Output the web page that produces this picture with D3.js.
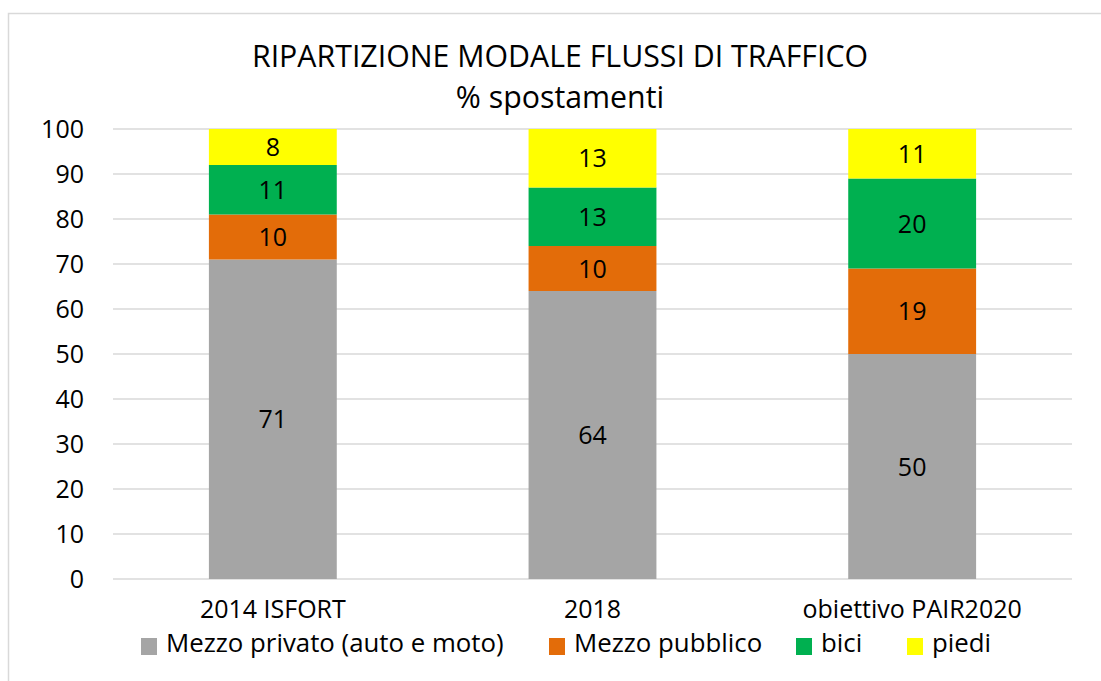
<!DOCTYPE html>
<html>
<head>
<meta charset="utf-8">
<script src="https://cdn.jsdelivr.net/npm/d3@7"></script>
<style>
  html, body { margin: 0; padding: 0; background: #fff; }
  svg { display: block; font-family: "Open Sans", "Noto Sans", sans-serif; }
</style>
</head>
<body>
<svg id="chart" width="1101" height="681"></svg>
<script>
// Modal split of traffic flows (% of trips)
const categories = ["2014 ISFORT", "2018", "obiettivo PAIR2020"];
const seriesNames = ["Mezzo privato (auto e moto)", "Mezzo pubblico", "bici", "piedi"];
const privato  = [71, 64, 50];
const pubblico = [10, 10, 19];
const bici     = [11, 13, 20];
const piedi    = [8, 13, 11];
const yTicks   = [0, 10, 20, 30, 40, 50, 60, 70, 80, 90, 100];
const colors   = ["#a5a5a5", "#e36c09", "#00b050", "#ffff00"];

const FONT = "'Open Sans', 'Noto Sans', sans-serif";
const LABEL_SIZE = 25;

const seriesValues = [privato, pubblico, bici, piedi];
const rows = categories.map((c, i) => {
  const r = { cat: c };
  seriesNames.forEach((s, k) => { r[s] = seriesValues[k][i]; });
  return r;
});

const svg = d3.select("#chart");
const W = 1101, H = 681;

// outer chart frame
svg.append("rect")
  .attr("x", 8.5).attr("y", 13.5)
  .attr("width", W + 10).attr("height", H + 10)
  .attr("fill", "#fff").attr("stroke", "#d9d9d9").attr("stroke-width", 1.5);

const plot = { left: 113, right: 1072, top: 129, bottom: 579 };

const x = d3.scaleBand()
  .domain(categories)
  .range([plot.left, plot.right])
  .paddingInner(0.6)
  .paddingOuter(0.3);

const y = d3.scaleLinear()
  .domain([0, 100])
  .range([plot.bottom, plot.top]);

// gridlines
svg.append("g")
  .selectAll("line")
  .data(yTicks)
  .join("line")
  .attr("x1", plot.left).attr("x2", plot.right)
  .attr("y1", d => y(d)).attr("y2", d => y(d))
  .attr("stroke", "#d9d9d9").attr("stroke-width", 1.5);

// y axis labels
const yAxis = d3.axisLeft(y).tickValues(yTicks).tickSize(0).tickPadding(0);
const yG = svg.append("g")
  .attr("transform", `translate(${plot.left - 29},0)`)
  .call(yAxis);
yG.select(".domain").remove();
yG.selectAll("text")
  .attr("font-family", FONT)
  .attr("font-size", LABEL_SIZE).attr("fill", "#000");

// stacked bars
const stack = d3.stack().keys(seriesNames);
const stacked = stack(rows);

const layers = svg.append("g")
  .selectAll("g")
  .data(stacked)
  .join("g")
  .attr("fill", (d, i) => colors[i]);

layers.selectAll("rect")
  .data(d => d)
  .join("rect")
  .attr("x", d => x(d.data.cat))
  .attr("width", x.bandwidth())
  .attr("y", d => y(d[1]))
  .attr("height", d => y(d[0]) - y(d[1]));

// value labels
layers.selectAll("text")
  .data(d => d.map(v => ({ v, key: d.key })))
  .join("text")
  .attr("x", d => x(d.v.data.cat) + x.bandwidth() / 2)
  .attr("y", d => (y(d.v[0]) + y(d.v[1])) / 2)
  .attr("dy", "0.36em")
  .attr("text-anchor", "middle")
  .attr("font-size", LABEL_SIZE)
  .attr("fill", "#000")
  .text(d => d.v.data[d.key]);

// x axis labels
const xAxis = d3.axisBottom(x).tickSize(0).tickPadding(0);
const xG = svg.append("g")
  .attr("transform", `translate(0,${plot.bottom + 21})`)
  .call(xAxis);
xG.select(".domain").remove();
xG.selectAll("text")
  .attr("font-family", FONT)
  .attr("font-size", LABEL_SIZE).attr("fill", "#000");

// title
svg.append("text")
  .attr("x", 560).attr("y", 67)
  .attr("text-anchor", "middle")
  .attr("font-size", 30.3).attr("fill", "#000")
  .text("RIPARTIZIONE MODALE FLUSSI DI TRAFFICO");
svg.append("text")
  .attr("x", 560).attr("y", 108)
  .attr("text-anchor", "middle")
  .attr("font-size", 30.3).attr("fill", "#000")
  .text("% spostamenti");

// legend
const legendX = [141, 549, 796, 907];
const legend = svg.append("g")
  .selectAll("g")
  .data(seriesNames)
  .join("g")
  .attr("transform", (d, i) => `translate(${legendX[i]},638)`);
legend.append("rect")
  .attr("width", 16).attr("height", 17)
  .attr("fill", (d, i) => colors[i]);
legend.append("text")
  .attr("x", 25).attr("y", 14)
  .attr("font-size", 25.8).attr("fill", "#000")
  .text(d => d);
</script>
</body>
</html>
